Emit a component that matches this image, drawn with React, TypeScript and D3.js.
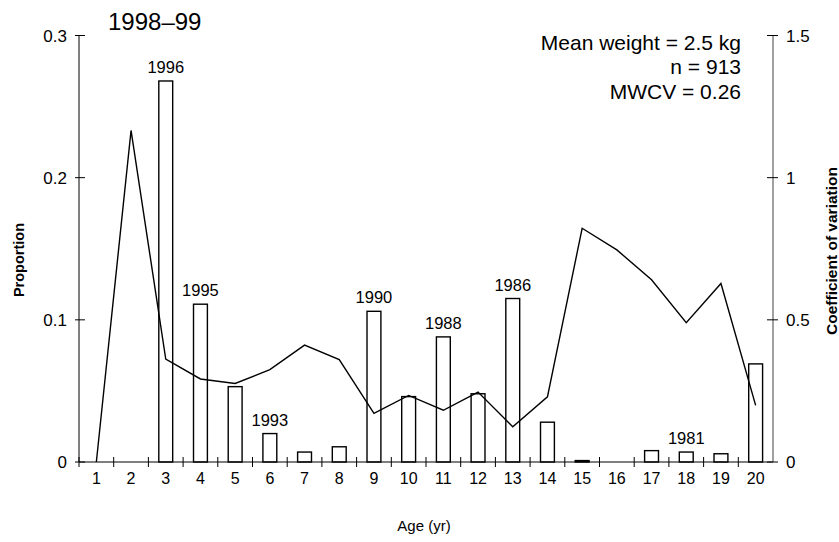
import { useEffect, useRef } from "react";
import * as d3 from "d3";

const ages = d3.range(1, 21).map(String);
const proportion = [0, 0, 0.268, 0.111, 0.053, 0.02, 0.007, 0.0107, 0.106, 0.046, 0.088, 0.048, 0.115, 0.028, 0.001, 0, 0.008, 0.007, 0.0058, 0.069];
const cv = [0, 1.166, 0.362, 0.292, 0.276, 0.325, 0.411, 0.36, 0.171, 0.234, 0.182, 0.246, 0.124, 0.229, 0.822, 0.746, 0.641, 0.49, 0.628, 0.199];
const yearAges = ["3", "4", "6", "9", "11", "13", "18"];
const yearLabels = ["1996", "1995", "1993", "1990", "1988", "1986", "1981"];
const leftTicks = [0, 0.1, 0.2, 0.3];
const rightTicks = [0, 0.5, 1, 1.5];
const notes = ["Mean weight = 2.5 kg", "n = 913", "MWCV = 0.26"];

export default function App() {
  const ref = useRef<SVGSVGElement | null>(null);

  useEffect(() => {
    if (!ref.current) return;
    const svg = d3.select(ref.current);
    svg.selectAll("*").remove();

    const left = 79;
    const right = 773;
    const top = 35.5;
    const bottom = 462;
    const font = "'Liberation Sans', Arial, sans-serif";

    const x = d3.scaleBand<string>().domain(ages).range([left, right]);
    const yL = d3.scaleLinear().domain([0, 0.3]).range([bottom, top]);
    const yR = d3.scaleLinear().domain([0, 1.5]).range([bottom, top]);
    const step = x.step();
    const barW = step * 0.4;

    // bars
    svg
      .append("g")
      .selectAll("rect")
      .data(ages)
      .join("rect")
      .filter((_, i) => proportion[i] > 0)
      .attr("x", (d) => x(d)! + (step - barW) / 2)
      .attr("y", (d) => yL(proportion[ages.indexOf(d)]))
      .attr("width", barW)
      .attr("height", (d) => bottom - yL(proportion[ages.indexOf(d)]))
      .attr("fill", "white")
      .attr("stroke", "black")
      .attr("stroke-width", 1.4);

    // cv line
    const line = d3
      .line<number>()
      .x((_, i) => x(ages[i])! + step / 2)
      .y((d) => yR(d));
    svg
      .append("path")
      .datum(cv)
      .attr("fill", "none")
      .attr("stroke", "black")
      .attr("stroke-width", 1.4)
      .attr("d", line);

    // x axis
    const xg = svg.append("g").attr("font-family", font);
    xg.append("line")
      .attr("x1", left)
      .attr("x2", right)
      .attr("y1", bottom)
      .attr("y2", bottom)
      .attr("stroke", "black");
    xg.selectAll("line.tick")
      .data(ages)
      .join("line")
      .attr("class", "tick")
      .attr("x1", (d) => x(d)!)
      .attr("x2", (d) => x(d)!)
      .attr("y1", bottom - 5)
      .attr("y2", bottom + 5)
      .attr("stroke", "black");
    xg.selectAll("text")
      .data(ages)
      .join("text")
      .attr("x", (d) => x(d)! + step / 2)
      .attr("y", 484)
      .attr("text-anchor", "middle")
      .attr("font-size", 16)
      .text((d) => d);

    // left axis
    const lg = svg.append("g").attr("font-family", font);
    lg.append("line")
      .attr("x1", left)
      .attr("x2", left)
      .attr("y1", top)
      .attr("y2", bottom)
      .attr("stroke", "black");
    lg.selectAll("line.tick")
      .data(leftTicks)
      .join("line")
      .attr("class", "tick")
      .attr("x1", left - 4)
      .attr("x2", left + 6)
      .attr("y1", (d) => yL(d))
      .attr("y2", (d) => yL(d))
      .attr("stroke", "black");
    lg.selectAll("text")
      .data(leftTicks)
      .join("text")
      .attr("x", 67)
      .attr("y", (d) => yL(d) + 6)
      .attr("text-anchor", "end")
      .attr("font-size", 17)
      .text((d) => d3.format("~g")(d));

    // right axis
    const rg = svg.append("g").attr("font-family", font);
    rg.append("line")
      .attr("x1", right)
      .attr("x2", right)
      .attr("y1", top)
      .attr("y2", bottom)
      .attr("stroke", "#808080")
      .attr("stroke-width", 1.5);
    rg.selectAll("line.tick")
      .data(rightTicks)
      .join("line")
      .attr("class", "tick")
      .attr("x1", right - 6)
      .attr("x2", right + 5)
      .attr("y1", (d) => yR(d))
      .attr("y2", (d) => yR(d))
      .attr("stroke", "black");
    rg.selectAll("text")
      .data(rightTicks)
      .join("text")
      .attr("x", 786)
      .attr("y", (d) => yR(d) + 6)
      .attr("font-size", 17)
      .text((d) => d3.format("~g")(d));

    // year-class labels
    svg
      .append("g")
      .attr("font-family", font)
      .selectAll("text")
      .data(yearAges)
      .join("text")
      .attr("x", (d) => x(d)! + step / 2)
      .attr("y", (d) => yL(proportion[ages.indexOf(d)]) - 8)
      .attr("text-anchor", "middle")
      .attr("font-size", 16.5)
      .text((_, i) => yearLabels[i]);

    // title and notes
    svg
      .append("text")
      .attr("x", 108)
      .attr("y", 30)
      .attr("font-family", font)
      .attr("font-size", 24)
      .text("1998–99");
    svg
      .append("g")
      .attr("font-family", font)
      .selectAll("text")
      .data(notes)
      .join("text")
      .attr("x", 741)
      .attr("y", (_, i) => 49.5 + i * 24.5)
      .attr("text-anchor", "end")
      .attr("font-size", 21)
      .text((d) => d);

    // axis titles
    svg
      .append("text")
      .attr("transform", "translate(24,260) rotate(-90)")
      .attr("text-anchor", "middle")
      .attr("font-family", font)
      .attr("font-weight", "bold")
      .attr("font-size", 14.5)
      .text("Proportion");
    svg
      .append("text")
      .attr("transform", "translate(837,251) rotate(-90)")
      .attr("text-anchor", "middle")
      .attr("font-family", font)
      .attr("font-weight", "bold")
      .attr("font-size", 15.5)
      .text("Coefficient of variation");
    svg
      .append("text")
      .attr("x", 424)
      .attr("y", 531)
      .attr("text-anchor", "middle")
      .attr("font-family", font)
      .attr("font-size", 15)
      .text("Age (yr)");
  }, []);

  return (
    <svg
      ref={ref}
      width={839}
      height={542}
      style={{ position: "absolute", left: 0, top: 0, background: "white" }}
    />
  );
}
